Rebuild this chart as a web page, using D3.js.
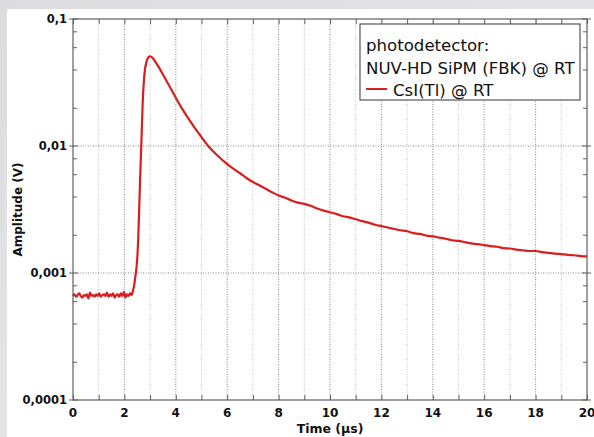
<!DOCTYPE html>
<html>
<head>
<meta charset="utf-8">
<script src="https://cdn.jsdelivr.net/npm/d3@7"></script>
<style>
html,body{margin:0;padding:0;background:#e6e6e8;}
svg{display:block;}
</style>
</head>
<body>
<svg id="chart" width="594" height="437"></svg>
<script>
// ---- data ----
const seriesName = "CsI(Tl) @ RT";
const legendTitle = ["photodetector:", "NUV-HD SiPM (FBK) @ RT"];
const xTickValues = [0, 2, 4, 6, 8, 10, 12, 14, 16, 18, 20];
const yTickValues = [0.0001, 0.001, 0.01, 0.1];
const yTickLabels = ["0,0001", "0,001", "0,01", "0,1"];
const xTitle = "Time (µs)";
const yTitle = "Amplitude (V)";

const time = [
  0.00,0.06,0.12,0.18,0.24,0.30,0.36,0.42,0.48,0.54,0.60,0.66,0.72,0.78,0.84,0.90,0.96,1.02,1.08,1.14,
  1.20,1.26,1.32,1.38,1.44,1.50,1.56,1.62,1.68,1.74,1.80,1.86,1.92,1.98,2.04,2.10,2.16,2.22,2.28,
  2.33,2.38,2.42,2.46,2.50,2.54,2.58,2.62,2.66,2.71,2.76,2.80,2.86,2.92,2.98,3.04,3.12,3.20,3.35,3.50,
  3.75,4.00,4.25,4.55,4.90,5.26,5.60,
  6.00,6.25,6.50,6.75,7.00,7.25,7.50,7.75,8.00,8.25,8.50,8.75,9.00,9.25,9.50,9.75,10.00,10.25,10.50,10.75,
  11.00,11.25,11.50,11.75,12.00,12.25,12.50,12.75,13.00,13.25,13.50,13.75,14.00,14.25,14.50,14.75,
  15.00,15.25,15.50,15.75,16.00,16.25,16.50,16.75,17.00,17.25,17.50,17.75,18.00,18.25,18.50,18.75,
  19.00,19.25,19.50,19.75,20.00
];
const amplitude = [
  0.00066,0.00068,0.00065,0.00067,0.00069,0.00066,0.00064,0.00067,0.00066,0.00068,0.00063,0.00070,0.00066,0.00067,0.00065,0.00068,0.00066,0.00069,0.00065,0.00067,
  0.00068,0.00066,0.00070,0.00065,0.00068,0.00066,0.00069,0.00064,0.00067,0.00068,0.00065,0.00069,0.00066,0.00071,0.00064,0.00068,0.00066,0.00069,0.00067,
  0.00072,0.00080,0.00092,0.00105,0.0013,0.0019,0.0034,0.0062,0.0105,0.0215,0.033,0.040,0.046,0.0495,0.0508,0.0505,0.0488,0.0462,0.0414,0.0366,
  0.0297,0.0240,0.0196,0.0158,0.0125,0.0100,0.0085,
  0.0072,0.0066,0.0061,0.0056,0.0052,0.0049,0.0046,0.00432,0.00408,0.00392,0.00372,0.00358,0.00350,0.00338,0.00322,0.00310,0.00301,0.00292,0.00280,0.00274,
  0.00265,0.00256,0.00249,0.00240,0.00234,0.00228,0.00222,0.00217,0.00213,0.00206,0.00203,0.00197,0.00194,0.00190,0.00186,0.00181,
  0.00179,0.00175,0.00171,0.00169,0.00166,0.00163,0.00161,0.00157,0.00156,0.00153,0.00151,0.00149,0.00149,0.00146,0.00144,0.00142,
  0.00141,0.00139,0.00138,0.00136,0.00135
];

// ---- layout ----
const svg = d3.select("#chart");
const W = 594, H = 437;
const plot = {left: 73, right: 587, top: 19, bottom: 400};

// background panel
const defs = svg.append("defs");
const grad = defs.append("linearGradient").attr("id","bg").attr("x1","0").attr("y1","0").attr("x2","1").attr("y2","1");
grad.append("stop").attr("offset","0").attr("stop-color","#dcdcdf");
grad.append("stop").attr("offset","1").attr("stop-color","#ececee");
svg.append("rect").attr("width",W).attr("height",H).attr("fill","url(#bg)");
svg.append("rect").attr("x",7).attr("y",9).attr("width",W-7).attr("height",H-9).attr("fill","#ffffff");

const x = d3.scaleLinear().domain([0, 20]).range([plot.left, plot.right]);
const y = d3.scaleLog().domain([1e-4, 0.1]).range([plot.bottom, plot.top]);

// grid
const g = svg.append("g");
const xGrid = d3.range(1, 20);
g.selectAll("line.vg").data(xGrid).join("line")
  .attr("x1", d => x(d)).attr("x2", d => x(d))
  .attr("y1", plot.top).attr("y2", plot.bottom)
  .attr("stroke", d => d % 2 === 0 ? "#8a8a8a" : "#c4c4c4")
  .attr("stroke-width", 1)
  .attr("stroke-dasharray", "1,1.5");
g.selectAll("line.hg").data([0.001, 0.01]).join("line")
  .attr("x1", plot.left).attr("x2", plot.right)
  .attr("y1", d => y(d)).attr("y2", d => y(d))
  .attr("stroke", "#8a8a8a").attr("stroke-width", 1)
  .attr("stroke-dasharray", "1,1.5");

// minor y ticks
const minorY = [];
[1e-4, 1e-3, 1e-2].forEach(dec => [2,4,6,8].forEach(m => minorY.push(dec*m)));

const axisColor = "#606060";
const xAxisB = d3.axisBottom(x).tickValues(d3.range(0, 21)).tickSize(-5).tickFormat("");
const xAxisT = d3.axisTop(x).tickValues(d3.range(0, 21)).tickSize(-5).tickFormat("");
const yAxisL = d3.axisLeft(y).tickValues(minorY).tickSize(-4).tickFormat("");
const yAxisR = d3.axisRight(y).tickValues(minorY).tickSize(-4).tickFormat("");

function styleAxis(sel){
  sel.selectAll("line").attr("stroke", axisColor).attr("stroke-width", 1);
}
svg.append("g").attr("transform",`translate(0,${plot.bottom})`).call(xAxisB).call(styleAxis).call(s=>s.select(".domain").remove());
svg.append("g").attr("transform",`translate(0,${plot.top})`).call(xAxisT).call(styleAxis).call(s=>s.select(".domain").remove());
svg.append("g").attr("transform",`translate(${plot.left},0)`).call(yAxisL).call(styleAxis).call(s=>s.select(".domain").remove());
svg.append("g").attr("transform",`translate(${plot.right},0)`).call(yAxisR).call(styleAxis).call(s=>s.select(".domain").remove());

// major y ticks (crossing)
svg.append("g").selectAll("line").data(yTickValues).join("line")
  .attr("x1", plot.left - 4).attr("x2", plot.left + 5)
  .attr("y1", d => y(d)).attr("y2", d => y(d))
  .attr("stroke", axisColor).attr("stroke-width", 1);
svg.append("g").selectAll("line").data(yTickValues).join("line")
  .attr("x1", plot.right - 5).attr("x2", plot.right + 4)
  .attr("y1", d => y(d)).attr("y2", d => y(d))
  .attr("stroke", axisColor).attr("stroke-width", 1);

// frame
svg.append("rect").attr("x", plot.left).attr("y", plot.top)
  .attr("width", plot.right - plot.left).attr("height", plot.bottom - plot.top)
  .attr("fill", "none").attr("stroke", axisColor).attr("stroke-width", 1.2);

// tick labels
const labFont = "'DejaVu Sans', Verdana, sans-serif";
svg.append("g").selectAll("text").data(xTickValues).join("text")
  .attr("x", d => x(d)).attr("y", 417)
  .attr("text-anchor", "middle")
  .attr("font-family", labFont).attr("font-weight", "bold").attr("font-size", 12)
  .attr("fill", "#111")
  .text(d => d);
svg.append("g").selectAll("text").data(yTickValues).join("text")
  .attr("x", 67).attr("y", d => y(d)).attr("dy", "0.36em")
  .attr("text-anchor", "end")
  .attr("font-family", labFont).attr("font-weight", "bold").attr("font-size", 11.5)
  .attr("fill", "#111")
  .text((d, i) => yTickLabels[i]);

// axis titles
svg.append("text").attr("x", (plot.left + plot.right) / 2).attr("y", 433)
  .attr("text-anchor", "middle")
  .attr("font-family", labFont).attr("font-weight", "bold").attr("font-size", 12.5)
  .attr("fill", "#111").text(xTitle);
svg.append("text").attr("transform", `translate(22,${(plot.top + plot.bottom) / 2}) rotate(-90)`)
  .attr("text-anchor", "middle")
  .attr("font-family", labFont).attr("font-weight", "bold").attr("font-size", 12)
  .attr("fill", "#111").text(yTitle);

// curve
const pts = time.map((t, i) => [t, amplitude[i]]);
const line = d3.line().x(d => x(d[0])).y(d => y(d[1])).curve(d3.curveMonotoneX);
svg.append("path").datum(pts)
  .attr("d", line)
  .attr("fill", "none").attr("stroke", "#d81e1e").attr("stroke-width", 2.2)
  .attr("stroke-linejoin", "round");

// legend
const lg = svg.append("g");
lg.append("rect").attr("x", 360).attr("y", 24).attr("width", 220).attr("height", 76)
  .attr("fill", "#ffffff").attr("stroke", "#555").attr("stroke-width", 1.2);
const legFont = "'DejaVu Sans', Verdana, sans-serif";
lg.selectAll("text.t").data(legendTitle).join("text")
  .attr("x", 366).attr("y", (d, i) => 51 + i * 23)
  .attr("font-family", legFont).attr("font-size", 16.6).attr("fill", "#111")
  .text(d => d);
lg.append("line").attr("x1", 366).attr("x2", 387).attr("y1", 89).attr("y2", 89)
  .attr("stroke", "#d81e1e").attr("stroke-width", 2);
lg.append("text").attr("x", 393).attr("y", 96)
  .attr("font-family", legFont).attr("font-size", 16.6).attr("fill", "#111")
  .text(seriesName);
</script>
</body>
</html>
